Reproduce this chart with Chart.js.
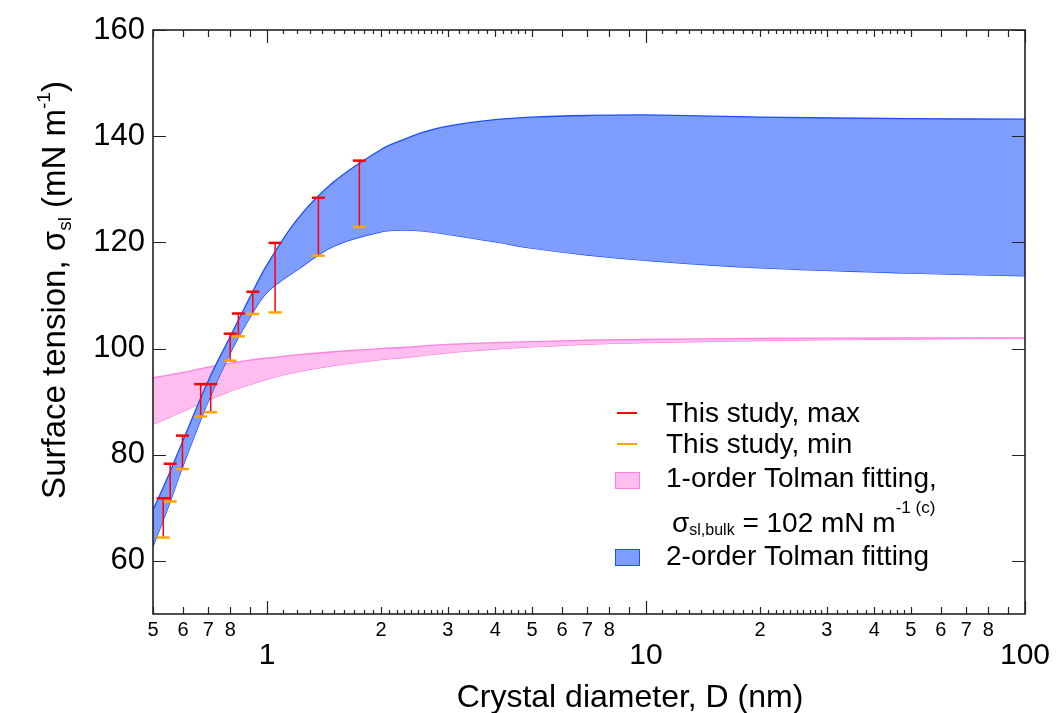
<!DOCTYPE html>
<html>
<head>
<meta charset="utf-8">
<script src="https://cdn.jsdelivr.net/npm/chart.js@4.4.1/dist/chart.umd.min.js"></script>
<style>html,body{margin:0;background:#fff}canvas{display:block}</style>
</head>
<body>
<canvas id="c" width="1056" height="713"></canvas>
<script>
const FAM="'Liberation Sans', Arial, sans-serif"
const f=s=>s+"px "+FAM

// error bars (D in nm, sigma in mN/m)
const errD=[0.532,0.555,0.598,0.668,0.710,0.799,0.840,0.917,1.05,1.366,1.752]
const errMax=[71.8,78.3,83.6,93.3,93.3,102.8,106.6,110.7,119.9,128.4,135.4]
const errMin=[64.4,71.2,77.3,87.2,88.0,97.7,102.3,106.5,106.8,117.5,122.9]

// fitted bands
const fitD=[0.5,0.55,0.6,0.7,0.8,0.9,1,1.2,1.5,2,2.3,2.6,3,4,5,7,10,20,50,100]
const blueHi=[69.6,76.2,82.7,94.0,102.3,109.6,115.8,124.3,131.4,137.5,139.4,140.8,141.9,143.1,143.6,143.9,144.0,143.6,143.3,143.2]
const blueLo=[62.7,70.4,77.9,90.1,99.2,105.8,110.6,114.8,119.3,122.0,122.3,122.1,121.5,120.1,118.9,117.6,116.6,115.2,114.2,113.7]
const pinkHi=[94.5,95.0,95.5,96.5,97.2,97.8,98.2,98.8,99.4,100.0,100.2,100.5,100.8,101.1,101.3,101.6,101.7,101.9,102.0,102.0]
const pinkLo=[85.7,87.0,88.2,90.3,92.0,93.2,94.2,95.6,96.8,97.9,98.3,98.7,99.2,99.9,100.3,100.8,101.1,101.5,101.8,101.9]

// axis ticks
const xTicks=[0.5,0.6,0.7,0.8,0.9,1,2,3,4,5,6,7,8,9,10,20,30,40,50,60,70,80,90,100]
const xMajor=[1,10,100]
const tinyBase=[1.1,1.2,1.3,1.4,1.5,1.6,1.7,1.8,1.9,2.1,2.2,2.3,2.4,2.5,2.6,2.7,2.8,2.9,3.2,3.4,3.6,3.8,4.2,4.4,4.6,4.8]
const xTiny=tinyBase.concat(tinyBase.map(v=>v*10))
const yTicks=[60,80,100,120,140,160]

const RED="#ff0000",ORANGE="#ffa500"
const BLUE_FILL="rgb(127,157,255)",BLUE_EDGE="#1d4fff"
const PINK_FILL="rgb(255,189,240)",PINK_EDGE="#ff80df"

const pts=(xs,ys)=>xs.map((x,i)=>({x,y:ys[i]}))
const stems=[]
errD.forEach((d,i)=>stems.push({x:d,y:errMax[i]},{x:d,y:errMin[i]},{x:d,y:null}))

function rich(ctx,x,y,parts,draw){
  let cx=x
  parts.forEach(p=>{
    ctx.font=f(p.s)
    if(draw)ctx.fillText(p.t,cx,y+(p.dy||0))
    cx+=ctx.measureText(p.t).width
  })
  return cx-x
}

const frame={id:"frame",afterDraw(ch){
  const {ctx,chartArea:a,scales:{x,y}}=ch
  ctx.save()
  ctx.strokeStyle="#222"
  ctx.lineWidth=1.2
  ctx.beginPath()
  const tx=(v,len)=>{const p=Math.round(x.getPixelForValue(v))+0.5
    ctx.moveTo(p,a.bottom);ctx.lineTo(p,a.bottom-len)
    ctx.moveTo(p,a.top);ctx.lineTo(p,a.top+len)}
  xTicks.forEach(v=>tx(v,xMajor.includes(v)?13:7))
  xTiny.forEach(v=>tx(v,4))
  yTicks.forEach(v=>{const p=Math.round(y.getPixelForValue(v))+0.5
    ctx.moveTo(a.left,p);ctx.lineTo(a.left+13,p)
    ctx.moveTo(a.right,p);ctx.lineTo(a.right-13,p)})
  ctx.stroke()
  ctx.lineWidth=1.6
  ctx.strokeRect(a.left,a.top,a.right-a.left,a.bottom-a.top)

  ctx.fillStyle="#000"
  ctx.textBaseline="alphabetic"
  // x title
  ctx.font=f(32);ctx.textAlign="center"
  ctx.fillText("Crystal diameter, D (nm)",630,707)
  ctx.textAlign="left"
  // y title
  const yt=[{t:"Surface tension, σ",s:33},{t:"sl",s:19,dy:6},{t:" (mN m",s:33},{t:"-1",s:19,dy:-15},{t:")",s:33}]
  const w=rich(ctx,0,0,yt,false)
  ctx.save();ctx.translate(65,290);ctx.rotate(-Math.PI/2)
  rich(ctx,-w/2,0,yt,true)
  ctx.restore()

  // legend
  ctx.lineWidth=2
  ctx.strokeStyle=RED;ctx.beginPath();ctx.moveTo(617,413);ctx.lineTo(637,413);ctx.stroke()
  ctx.strokeStyle=ORANGE;ctx.beginPath();ctx.moveTo(617,444);ctx.lineTo(637,444);ctx.stroke()
  ctx.lineWidth=1
  ctx.fillStyle=PINK_FILL;ctx.fillRect(615.5,472.5,24,16);ctx.strokeStyle=PINK_EDGE;ctx.strokeRect(615.5,472.5,24,16)
  ctx.fillStyle=BLUE_FILL;ctx.fillRect(615.5,549.5,24,16);ctx.strokeStyle=BLUE_EDGE;ctx.strokeRect(615.5,549.5,24,16)
  ctx.fillStyle="#000";ctx.font=f(28)
  ctx.fillText("This study, max",666,422)
  ctx.fillText("This study, min",666,453)
  ctx.fillText("1-order Tolman fitting,",666,487)
  ctx.fillText("2-order Tolman fitting",666,565)
  rich(ctx,672,532,[{t:"σ",s:28},{t:"sl,bulk",s:16,dy:3},{t:" = 102 mN m",s:28},{t:"-1 (c)",s:17,dy:-19}],true)
  ctx.restore()
}}

const zeroPad=s=>{s.paddingLeft=0;s.paddingRight=0;s.paddingTop=0;s.paddingBottom=0}
const band=(ys,edge,fillCol)=>({data:pts(fitD,ys),borderColor:edge,backgroundColor:fillCol||"transparent",
  borderWidth:1.3,pointRadius:0,fill:fillCol?"+1":false,tension:0.35})

new Chart(document.getElementById("c"),{
  type:"line",
  data:{datasets:[
    {data:pts(errD,errMax),showLine:false,pointStyle:"line",pointRadius:6.5,pointBorderColor:RED,pointBorderWidth:2.5},
    {data:pts(errD,errMin),showLine:false,pointStyle:"line",pointRadius:6.5,pointBorderColor:ORANGE,pointBorderWidth:2.5},
    {data:stems,borderColor:RED,borderWidth:1.5,pointRadius:0,spanGaps:false,fill:false},
    band(blueHi,BLUE_EDGE,BLUE_FILL),
    band(blueLo,BLUE_EDGE),
    band(pinkHi,PINK_EDGE,PINK_FILL),
    band(pinkLo,PINK_EDGE)
  ]},
  options:{
    responsive:false,animation:false,
    layout:{padding:{left:0,right:31,top:30,bottom:0}},
    plugins:{legend:{display:false},tooltip:{enabled:false}},
    scales:{
      x:{type:"logarithmic",min:0.5,max:100,
        grid:{display:false,drawTicks:false},border:{display:false},
        afterBuildTicks:s=>{s.ticks=xTicks.map(v=>({value:v}))},
        afterFit:s=>{s.height=99;zeroPad(s)},
        ticks:{autoSkip:false,maxRotation:0,minRotation:0,padding:4,color:"#000",
          font:c=>xMajor.includes(c.tick&&c.tick.value)?{family:FAM,size:30,lineHeight:0.83}:{family:FAM,size:20,lineHeight:1.2},
          callback:v=>{
            if(xMajor.includes(v))return["",String(v)]
            const d=Math.round(v<1?v*10:v<10?v:v/10)
            return d===9?"":String(d)
          }}},
      y:{min:50,max:160,
        grid:{display:false,drawTicks:false},border:{display:false},
        afterBuildTicks:s=>{s.ticks=yTicks.map(v=>({value:v}))},
        afterFit:s=>{s.width=153;zeroPad(s)},
        ticks:{padding:8,color:"#000",font:{family:FAM,size:31}}}
    }
  },
  plugins:[frame]
})
</script>
</body>
</html>
